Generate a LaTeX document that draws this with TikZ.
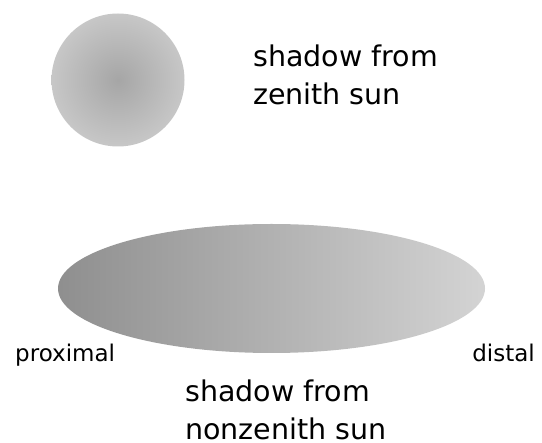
\documentclass[tikz,border=0pt]{standalone}
\usepackage{fontspec}
\setmainfont{DejaVu Sans}
\usetikzlibrary{shapes.geometric}
\tikzset{
  biglabel/.style={anchor=base west, align=left, inner sep=0pt, font=\fontsize{28.5}{38}\selectfont},
  sidelabel/.style={anchor=base west, inner sep=0pt, font=\fontsize{23}{26}\selectfont},
}
\begin{document}
\begin{tikzpicture}[x=1pt,y=-1pt]
\useasboundingbox (0,0) rectangle (542,443);
\node[circle, draw=none, inner sep=0pt, minimum size=133pt, shading=radial, inner color=gray!70, outer color=gray!44] (zenith) at (118,80) {};
\node[ellipse, draw=none, inner sep=0pt, minimum width=427pt, minimum height=129pt, left color=black!44, right color=black!17] (nonzenith) at (271.5,288.5) {};
\node[biglabel] (ztext) at (253,105) {shadow from\\zenith sun};
\node[sidelabel] (prox) at (15,362) {proximal};
\node[sidelabel, anchor=base east] (dist) at (535,362) {distal};
\node[biglabel] (ntext) at (185,440) {shadow from\\nonzenith sun};
\end{tikzpicture}
\end{document}
